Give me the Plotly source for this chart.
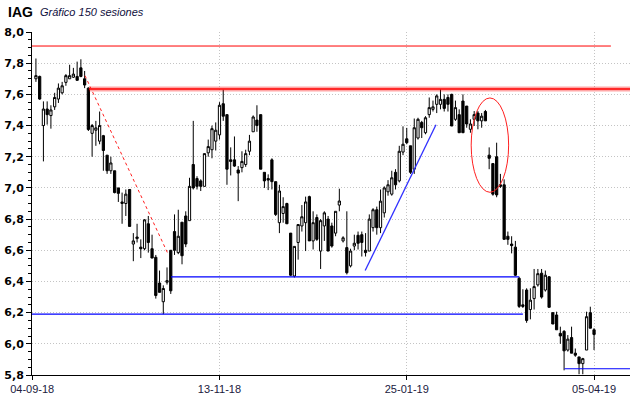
import plotly.graph_objects as go

# ---- data (session index 1..150) ----
sessions = list(range(1, 151))
opens = [7.70, 7.715, 7.40, 7.506, 7.464, 7.52, 7.57, 7.61, 7.677, 7.70,
         7.71, 7.715, 7.77, 7.70, 7.64, 7.35, 7.37, 7.30, 7.335, 7.21,
         7.11, 7.11, 7.00, 6.90, 6.90, 6.99, 6.64, 6.675, 6.62, 6.61,
         6.77, 6.61, 6.555, 6.39, 6.27, 6.395, 6.60, 6.72, 6.585, 6.78,
         6.82, 6.79, 7.15, 7.06, 7.045, 7.01, 7.225, 7.245, 7.30, 7.34,
         7.54, 7.47, 7.18, 7.18, 7.115, 7.13, 7.15, 7.235, 7.36, 7.435,
         7.47, 7.10, 7.06, 7.18, 7.04, 6.777, 6.836, 6.90, 6.71, 6.435,
         6.65, 6.756, 6.777, 6.944, 6.66, 6.81, 6.595, 6.756, 6.80, 6.756,
         6.71, 6.89, 6.66, 6.617, 6.50, 6.627, 6.696, 6.70, 6.60, 6.595,
         6.745, 6.86, 6.745, 6.84, 6.975, 6.96, 7.10, 7.045, 7.23, 7.315,
         7.27, 7.12, 7.32, 7.42, 7.354, 7.47, 7.504, 7.536, 7.536, 7.568,
         7.58, 7.60, 7.44, 7.47, 7.557, 7.525, 7.376, 7.44, 7.48, 7.43,
         7.49, 7.21, 7.156, 7.20, 7.02, 7.02, 6.69, 6.64, 6.62, 6.42,
         6.25, 6.345, 6.22, 6.29, 6.378, 6.453, 6.345, 6.43, 6.20, 6.185,
         6.067, 6.08, 5.96, 6.04, 5.94, 5.916, 5.873, 5.96, 6.20, 6.09]
highs = [7.83, 7.72, 7.555, 7.555, 7.53, 7.61, 7.67, 7.68, 7.73, 7.79,
         7.77, 7.81, 7.825, 7.75, 7.645, 7.41, 7.43, 7.49, 7.34, 7.21,
         7.20, 7.11, 7.00, 6.97, 6.99, 6.99, 6.71, 6.77, 6.67, 6.80,
         6.82, 6.70, 6.57, 6.47, 6.375, 6.49, 6.60, 6.83, 6.86, 6.78,
         6.85, 7.065, 7.43, 7.075, 7.055, 7.22, 7.31, 7.40, 7.42, 7.55,
         7.63, 7.47, 7.26, 7.33, 7.14, 7.235, 7.245, 7.34, 7.465, 7.53,
         7.47, 7.10, 7.087, 7.19, 7.04, 7.02, 6.94, 6.905, 6.71, 6.625,
         6.765, 6.89, 6.944, 6.95, 6.85, 6.83, 6.80, 6.85, 6.82, 6.777,
         6.85, 6.995, 6.69, 6.85, 6.61, 6.70, 6.72, 6.72, 6.71, 6.83,
         6.87, 6.88, 6.99, 7.01, 7.05, 7.11, 7.12, 7.27, 7.395, 7.385,
         7.27, 7.445, 7.45, 7.43, 7.46, 7.58, 7.56, 7.60, 7.632, 7.60,
         7.60, 7.604, 7.56, 7.504, 7.60, 7.525, 7.44, 7.493, 7.493, 7.48,
         7.50, 7.26, 7.156, 7.29, 7.09, 7.055, 6.72, 6.69, 6.66, 6.43,
         6.35, 6.356, 6.356, 6.48, 6.48, 6.48, 6.47, 6.435, 6.20, 6.206,
         6.11, 6.088, 6.056, 6.11, 5.97, 5.916, 5.91, 6.206, 6.238, 6.10]
lows = [7.68, 7.565, 7.17, 7.406, 7.38, 7.50, 7.545, 7.60, 7.655, 7.70,
        7.705, 7.69, 7.71, 7.64, 7.365, 7.20, 7.27, 7.28, 7.11, 7.09,
        7.09, 6.965, 6.91, 6.77, 6.82, 6.753, 6.53, 6.65, 6.55, 6.60,
        6.585, 6.55, 6.29, 6.33, 6.19, 6.38, 6.32, 6.57, 6.575, 6.51,
        6.62, 6.79, 6.99, 6.99, 6.98, 7.01, 7.20, 7.19, 7.24, 7.31,
        7.43, 7.02, 7.08, 7.135, 6.915, 7.10, 7.135, 7.21, 7.36, 7.36,
        7.12, 7.00, 6.986, 6.99, 6.82, 6.71, 6.777, 6.77, 6.435, 6.425,
        6.54, 6.72, 6.595, 6.66, 6.605, 6.66, 6.48, 6.66, 6.595, 6.617,
        6.69, 6.85, 6.65, 6.445, 6.49, 6.60, 6.605, 6.56, 6.56, 6.595,
        6.72, 6.70, 6.71, 6.81, 6.95, 6.95, 6.99, 7.035, 7.21, 7.28,
        7.09, 7.09, 7.31, 7.32, 7.344, 7.45, 7.49, 7.48, 7.504, 7.49,
        7.49, 7.397, 7.43, 7.354, 7.354, 7.386, 7.354, 7.397, 7.376, 7.386,
        7.43, 7.12, 6.95, 6.94, 7.00, 6.67, 6.635, 6.58, 6.435, 6.23,
        6.23, 6.135, 6.157, 6.22, 6.367, 6.29, 6.335, 6.234, 6.127, 6.09,
        6.00, 5.83, 5.95, 5.94, 5.917, 5.805, 5.805, 5.96, 6.10, 5.96]
closes = [7.72, 7.57, 7.506, 7.47, 7.50, 7.58, 7.64, 7.655, 7.72, 7.72,
          7.73, 7.69, 7.715, 7.66, 7.375, 7.40, 7.385, 7.40, 7.24, 7.11,
          7.16, 6.97, 6.965, 6.91, 6.96, 6.753, 6.66, 6.685, 6.61, 6.795,
          6.65, 6.55, 6.31, 6.33, 6.355, 6.405, 6.34, 6.60, 6.69, 6.565,
          6.64, 7.01, 7.00, 7.01, 7.01, 7.22, 7.265, 7.38, 7.37, 7.53,
          7.46, 7.12, 7.17, 7.14, 7.095, 7.17, 7.22, 7.30, 7.455, 7.40,
          7.12, 7.045, 7.05, 7.04, 6.83, 6.98, 6.88, 6.77, 6.44, 6.625,
          6.765, 6.815, 6.91, 6.66, 6.777, 6.67, 6.79, 6.84, 6.595, 6.627,
          6.85, 6.916, 6.68, 6.456, 6.595, 6.645, 6.645, 6.65, 6.585, 6.80,
          6.86, 6.745, 6.915, 7.00, 7.02, 7.065, 7.02, 7.235, 7.28, 7.29,
          7.10, 7.386, 7.44, 7.386, 7.45, 7.515, 7.52, 7.59, 7.568, 7.51,
          7.536, 7.397, 7.515, 7.354, 7.354, 7.41, 7.41, 7.47, 7.43, 7.46,
          7.43, 7.19, 6.96, 6.955, 7.01, 6.67, 6.67, 6.63, 6.44, 6.24,
          6.24, 6.15, 6.28, 6.367, 6.45, 6.30, 6.44, 6.234, 6.127, 6.09,
          6.05, 5.955, 6.03, 5.94, 5.927, 5.873, 5.905, 6.174, 6.10, 6.06]

tick_positions = [0, 50, 100, 150]
tick_labels = ["04-09-18", "13-11-18", "25-01-19", "05-04-19"]
y_ticks = [5.8, 6.0, 6.2, 6.4, 6.6, 6.8, 7.0, 7.2, 7.4, 7.6, 7.8, 8.0]

# drawn study lines (levels in price, anchors in session index)
red_top_level = 7.91
red_resist_level = 7.635
blue_mid_level = 6.43
blue_low_level = 6.19
blue_bottom_level = 5.84
red_trend = ([14.1, 36.2], [7.72, 6.58])
blue_trend = ([88.9, 107.8], [6.47, 7.405])
ellipse_box = ([117.2, 127.2], [6.972, 7.577])

X_MIN, X_MAX = -0.05, 159.6

fig = go.Figure()
fig.add_trace(go.Candlestick(
    x=sessions, open=opens, high=highs, low=lows, close=closes,
    increasing=dict(line=dict(color="black", width=1), fillcolor="white"),
    decreasing=dict(line=dict(color="black", width=1), fillcolor="black"),
    whiskerwidth=0, showlegend=False, hoverinfo="skip",
))

def hline(x0, x1, y, color, width, dash="solid"):
    fig.add_shape(type="line", xref="x", yref="y", x0=x0, x1=x1, y0=y, y1=y,
                  line=dict(color=color, width=width, dash=dash), layer="above")

hline(X_MIN, 154.5, red_top_level, "#ff0000", 1)
hline(15.15, X_MAX, red_resist_level, "rgba(255,0,0,0.35)", 5)
hline(15.15, X_MAX, red_resist_level, "#ff0000", 1.5)
hline(37.05, 130.0, blue_mid_level, "#0000ff", 1.2)
hline(X_MIN, 131.0, blue_low_level, "#0000ff", 1.2)
hline(142.1, X_MAX, blue_bottom_level, "#0000ff", 1.2)

fig.add_shape(type="line", xref="x", yref="y",
              x0=red_trend[0][0], x1=red_trend[0][1], y0=red_trend[1][0], y1=red_trend[1][1],
              line=dict(color="#ff2020", width=1, dash="dot"))
fig.add_shape(type="line", xref="x", yref="y",
              x0=blue_trend[0][0], x1=blue_trend[0][1], y0=blue_trend[1][0], y1=blue_trend[1][1],
              line=dict(color="#3030ff", width=1.3))
fig.add_shape(type="circle", xref="x", yref="y",
              x0=ellipse_box[0][0], x1=ellipse_box[0][1], y0=ellipse_box[1][0], y1=ellipse_box[1][1],
              line=dict(color="#ff2020", width=1))

fig.add_annotation(xref="paper", yref="paper", x=(6 - 32) / 598, y=1 + (32 - 12) / 343,
                   xanchor="left", yanchor="middle",
                   text="<b>IAG</b>", showarrow=False,
                   font=dict(family="Liberation Sans", size=14, color="black"))
fig.add_annotation(xref="paper", yref="paper", x=(38 - 32) / 598, y=1 + (32 - 12) / 343,
                   xanchor="left", yanchor="middle",
                   text="<i>Gráfico 150 sesiones</i>", showarrow=False,
                   font=dict(family="Liberation Sans", size=11, color="#101040"))

grid_style = dict(showgrid=True, gridcolor="#c4c4c4", griddash="1px,2px", gridwidth=1)

fig.update_layout(
    width=640, height=398,
    margin=dict(l=32, r=10, t=32, b=23, autoexpand=False),
    paper_bgcolor="white", plot_bgcolor="white",
    separators=",.",
    showlegend=False,
    boxgap=0.15,
    xaxis=dict(
        range=[X_MIN, X_MAX], rangeslider=dict(visible=False), automargin=False,
        tickmode="array", tickvals=tick_positions, ticktext=tick_labels,
        ticks="outside", ticklen=4, tickcolor="black",
        showline=True, linecolor="black", linewidth=1,
        zeroline=False,
        tickfont=dict(family="Liberation Sans", size=11, color="#202040"),
        **grid_style,
    ),
    yaxis=dict(
        range=[5.8, 8.0], tickmode="array", tickvals=y_ticks, tickformat=".1f",
        automargin=False,
        ticks="outside", ticklen=5, tickcolor="black",
        minor=dict(dtick=0.05, tick0=5.8, ticks="outside", ticklen=3, tickcolor="black", showgrid=False),
        showline=True, linecolor="black", linewidth=1,
        zeroline=False,
        tickfont=dict(family="DejaVu Sans", size=11, color="black", weight="bold"),
        **grid_style,
    ),
)

fig.write_html("out.html", config={"displayModeBar": False, "staticPlot": True},
               post_script="document.body.style.margin='0';document.body.style.padding='0';")
